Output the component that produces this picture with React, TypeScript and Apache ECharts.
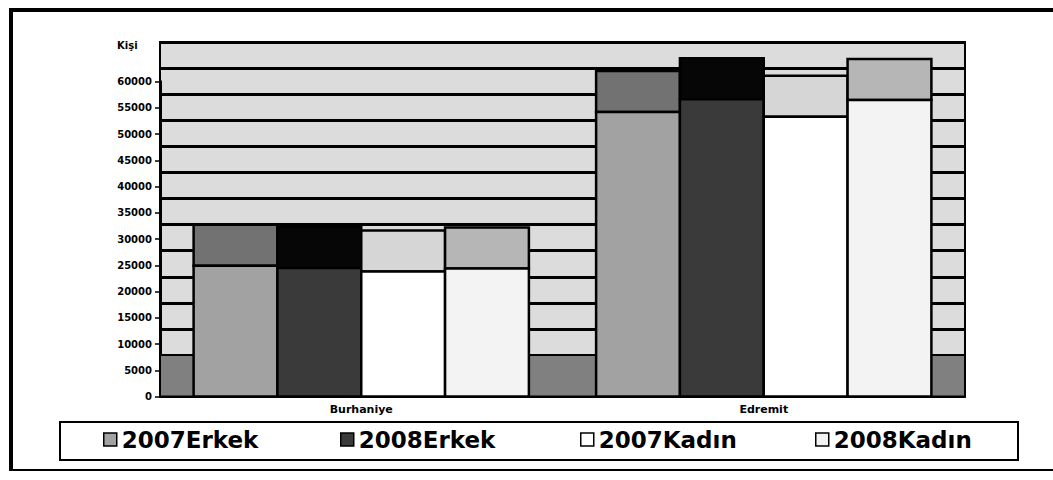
import { useEffect, useRef } from 'react';
import * as echarts from 'echarts';

const categories = ['Burhaniye', 'Edremit'];
const seriesNames = ['2007Erkek', '2008Erkek', '2007Kadın', '2008Kadın'];
const erkek2007 = [24900, 54200];
const erkek2008 = [24500, 56600];
const kadin2007 = [23800, 53300];
const kadin2008 = [24400, 56500];
const yAxisName = 'Kişi';

const seriesValues = [erkek2007, erkek2008, kadin2007, kadin2008];
const frontColors = ['#a2a2a2', '#3a3a3a', '#ffffff', '#f3f3f3'];
const topColors = ['#727272', '#060606', '#d6d6d6', '#b6b6b6'];
const legendLefts = [103, 340, 580, 815];

const FONT = '"DejaVu Sans", sans-serif';
const DEPTH = 41;
const GROUP = 0.833;

export default function App() {
  const ref = useRef<HTMLDivElement>(null);
  useEffect(() => {
    const chart = echarts.init(ref.current!, null, { renderer: 'svg' });
    const series = seriesNames.map((name, si) => ({
      type: 'custom',
      name,
      xAxisIndex: 1,
      yAxisIndex: 1,
      clip: false,
      z: 5,
      itemStyle: { color: frontColors[si], borderColor: '#000', borderWidth: 1.5 },
      data: seriesValues[si].map((v, ci) => [ci, v]),
      renderItem: (_params: any, api: any) => {
        const ci = api.value(0);
        const v = api.value(1);
        const base = api.coord([ci, 0]);
        const top = api.coord([ci, v]);
        const band = api.size([1, 0])[0];
        const groupW = band * GROUP;
        const bw = groupW / 4;
        const x = base[0] - groupW / 2 + si * bw;
        return {
          type: 'group',
          children: [
            {
              type: 'rect',
              shape: { x, y: top[1] - DEPTH, width: bw, height: DEPTH },
              style: { fill: topColors[si], stroke: '#000', lineWidth: 2.5 },
            },
            {
              type: 'rect',
              shape: { x, y: top[1], width: bw, height: base[1] - top[1] },
              style: { fill: frontColors[si], stroke: '#000', lineWidth: 2.5 },
            },
          ],
        };
      },
    }));

    const legends = seriesNames.map((name, i) => ({
      data: [name],
      left: legendLefts[i],
      top: 428,
      padding: 0,
      icon: 'rect',
      itemWidth: 13,
      itemHeight: 13,
      selectedMode: false,
      itemStyle: { borderColor: '#000', borderWidth: 1.5 },
      textStyle: { fontFamily: FONT, fontWeight: 'bold', fontSize: 23, color: '#000' },
    }));

    chart.setOption({
      animation: false,
      backgroundColor: '#fff',
      grid: [
        { left: 160, right: 88, top: 42, bottom: 125, show: true, backgroundColor: '#dcdcdc', borderColor: '#000', borderWidth: 2 },
        { left: 160, right: 88, top: 81.5, bottom: 83.5, show: false },
      ],
      xAxis: [
        { gridIndex: 0, type: 'category', data: categories, show: false },
        {
          gridIndex: 1,
          type: 'category',
          data: categories,
          axisLine: { lineStyle: { color: '#000', width: 2 } },
          axisTick: { length: 6, lineStyle: { color: '#000', width: 1.5 } },
          axisLabel: { fontFamily: FONT, fontWeight: 'bold', fontSize: 11, color: '#000', margin: 7 },
        },
      ],
      yAxis: [
        {
          gridIndex: 0,
          type: 'value',
          min: 0,
          max: 60000,
          interval: 5000,
          axisLabel: { show: false },
          axisLine: { show: false },
          axisTick: { show: false },
          splitLine: { show: true, lineStyle: { color: '#000', width: 3 } },
        },
        {
          gridIndex: 1,
          type: 'value',
          min: 0,
          max: 60000,
          interval: 5000,
          axisLine: { show: true, lineStyle: { color: '#000', width: 3 } },
          axisTick: { show: true, length: 5, lineStyle: { color: '#000', width: 1.5 } },
          axisLabel: {
            fontFamily: FONT,
            fontWeight: 'bold',
            fontSize: 10,
            color: '#000',
            margin: 8,
            formatter: (v: number) => String(v),
          },
          splitLine: { show: false },
        },
      ],
      legend: legends,
      graphic: [
        { type: 'rect', z: 1, shape: { x: 160, y: 355, width: 805, height: 41.5 }, style: { fill: '#808080', stroke: '#000', lineWidth: 2 } },
        { type: 'line', z: 10, shape: { x1: 9, y1: 10, x2: 1053, y2: 10 }, style: { stroke: '#000', lineWidth: 4 } },
        { type: 'line', z: 10, shape: { x1: 11, y1: 8, x2: 11, y2: 471 }, style: { stroke: '#000', lineWidth: 4 } },
        { type: 'line', z: 10, shape: { x1: 9, y1: 470, x2: 1053, y2: 470 }, style: { stroke: '#000', lineWidth: 2 } },
        { type: 'rect', z: 10, shape: { x: 60, y: 422, width: 958, height: 38 }, style: { fill: 'none', stroke: '#000', lineWidth: 2 } },
        {
          type: 'text',
          z: 10,
          x: 117,
          y: 45,
          style: { text: yAxisName, font: 'bold 10px "DejaVu Sans", sans-serif', fill: '#000', textVerticalAlign: 'middle' },
        },
      ],
      series,
    });
    return () => chart.dispose();
  }, []);
  return <div ref={ref} style={{ position: 'absolute', left: 0, top: 0, width: 1053, height: 480, background: '#fff' }} />;
}
